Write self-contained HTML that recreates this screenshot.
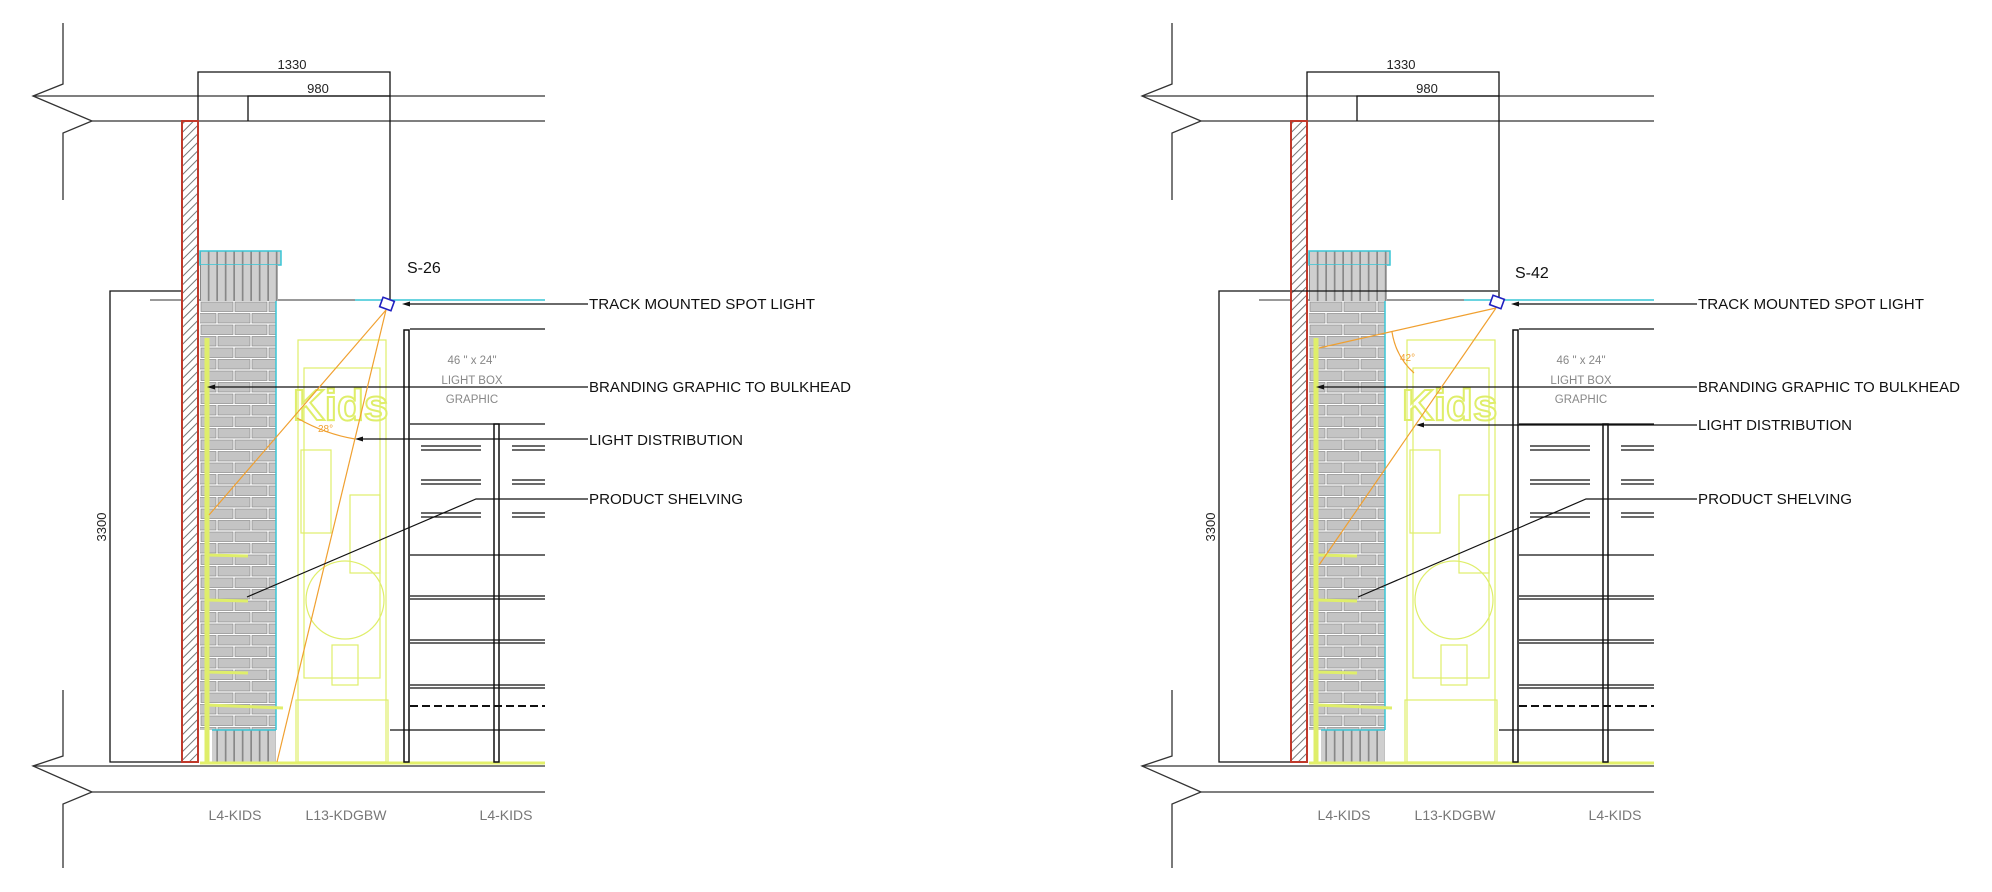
<!DOCTYPE html>
<html><head><meta charset="utf-8"><style>
html,body{margin:0;padding:0;background:#fff;}
svg{display:block;}
text{font-family:"Liberation Sans",sans-serif;}
</style></head><body>
<svg width="1992" height="892" viewBox="0 0 1992 892" xmlns="http://www.w3.org/2000/svg">
<defs>
<pattern id="hatch" width="6" height="6" patternUnits="userSpaceOnUse" patternTransform="rotate(45)">
<rect width="6" height="6" fill="#fff"/><line x1="0" y1="0" x2="0" y2="6" stroke="#777" stroke-width="2"/>
</pattern>
<pattern id="brick" x="200" y="301" width="34" height="23" patternUnits="userSpaceOnUse">
<rect width="34" height="23" fill="#fff"/>
<rect x="1" y="1" width="32" height="9.5" fill="#c4c4c4" stroke="#8a8a8a" stroke-width="0.7"/>
<rect x="-16" y="12.5" width="32" height="9.5" fill="#c4c4c4" stroke="#8a8a8a" stroke-width="0.7"/>
<rect x="18" y="12.5" width="32" height="9.5" fill="#c4c4c4" stroke="#8a8a8a" stroke-width="0.7"/>
</pattern>
<pattern id="vb" x="200" y="0" width="8.5" height="10" patternUnits="userSpaceOnUse">
<rect width="8.5" height="10" fill="#888"/><rect x="1" y="0" width="6.8" height="10" fill="#cfcfcf"/>
</pattern>
</defs>

<g id="half">
<g stroke="#333" stroke-width="1.3" fill="none">
<polyline points="63,23 63,84 33,96 92,121 63,133 63,200"/>
<polyline points="63,690 63,756 33,766 92,792 63,804 63,868"/>
<line x1="33" y1="96" x2="545" y2="96"/>
<line x1="92" y1="121" x2="545" y2="121"/>
<line x1="33" y1="766" x2="545" y2="766"/>
<line x1="92" y1="792" x2="545" y2="792"/>
</g>
<g stroke="#111" stroke-width="1.3" fill="none">
<polyline points="198,121 198,72 390,72 390,302"/>
<polyline points="248,121 248,96 390,96"/>
<polyline points="183,291 110,291 110,762 183,762"/>
<line x1="150" y1="300" x2="355" y2="300" stroke="#333" stroke-width="1"/>
</g>
<text x="292" y="69" font-size="13" text-anchor="middle" fill="#222">1330</text>
<text x="318" y="93" font-size="13" text-anchor="middle" fill="#222">980</text>
<text transform="translate(106,527) rotate(-90)" font-size="13" text-anchor="middle" fill="#222">3300</text>
<rect x="182" y="121" width="16" height="641" fill="url(#hatch)" stroke="#c0392b" stroke-width="2"/>
<rect x="200" y="251" width="81" height="14" fill="url(#vb)" stroke="#39c6d6" stroke-width="1.5"/>
<rect x="200" y="265" width="78" height="36" fill="url(#vb)"/>
<rect x="200" y="301" width="76" height="429" fill="url(#brick)"/>
<line x1="276" y1="301" x2="276" y2="730" stroke="#39c6d6" stroke-width="1.5"/>
<rect x="212" y="730" width="64" height="32" fill="url(#vb)"/>
<line x1="212" y1="730" x2="276" y2="730" stroke="#39c6d6" stroke-width="1.5"/>
<line x1="355" y1="300" x2="545" y2="300" stroke="#39c6d6" stroke-width="1.5"/>
<g stroke="#dfee6a" stroke-width="1.2" fill="none">
<line x1="207" y1="338" x2="207" y2="762" stroke-width="5"/>
<line x1="207" y1="555" x2="248" y2="556" stroke-width="3"/>
<line x1="207" y1="600" x2="248" y2="601" stroke-width="3"/>
<line x1="207" y1="672" x2="248" y2="673" stroke-width="3"/>
<line x1="207" y1="705" x2="283" y2="708" stroke-width="3"/>
<rect x="298" y="340" width="88" height="422"/>
<rect x="304" y="368" width="76" height="310"/>
<rect x="301" y="450" width="30" height="83"/>
<rect x="350" y="495" width="30" height="78"/>
<circle cx="345" cy="600" r="39"/>
<rect x="332" y="645" width="26" height="40"/>
<rect x="296" y="700" width="92" height="62"/>
</g>
<text x="293" y="420" font-size="44" font-weight="bold" fill="none" stroke="#dfee6a" stroke-width="2">Kids</text>
<line x1="200" y1="763" x2="545" y2="763" stroke="#e3f06a" stroke-width="3"/>
<g stroke="#111" stroke-width="1.3" fill="none">
<rect x="404" y="330" width="5" height="432" fill="#fff" stroke-width="1.5"/>
<line x1="410" y1="329" x2="545" y2="329"/>
<line x1="410" y1="424" x2="545" y2="424"/>
<rect x="494" y="424" width="5" height="338" stroke-width="1.5"/>
<line x1="421" y1="446" x2="481" y2="446"/><line x1="421" y1="450" x2="481" y2="450"/><line x1="512" y1="446" x2="545" y2="446"/><line x1="512" y1="450" x2="545" y2="450"/>
<line x1="421" y1="480" x2="481" y2="480"/><line x1="421" y1="484" x2="481" y2="484"/><line x1="512" y1="480" x2="545" y2="480"/><line x1="512" y1="484" x2="545" y2="484"/>
<line x1="421" y1="513" x2="481" y2="513"/><line x1="421" y1="517" x2="481" y2="517"/><line x1="512" y1="513" x2="545" y2="513"/><line x1="512" y1="517" x2="545" y2="517"/>
<line x1="410" y1="555" x2="545" y2="555"/>
<line x1="410" y1="596" x2="545" y2="596"/><line x1="410" y1="599" x2="545" y2="599"/>
<line x1="410" y1="640" x2="545" y2="640"/><line x1="410" y1="643" x2="545" y2="643"/>
<line x1="410" y1="685" x2="545" y2="685"/><line x1="410" y1="688" x2="545" y2="688"/>
<line x1="410" y1="706" x2="545" y2="706" stroke-dasharray="8 4" stroke-width="2"/>
<line x1="390" y1="730" x2="545" y2="730"/>
</g>
<g font-size="14" fill="#777" text-anchor="middle">
<text x="235" y="820">L4-KIDS</text>
<text x="346" y="820">L13-KDGBW</text>
<text x="506" y="820">L4-KIDS</text>
</g>
<g font-size="11.5" fill="#888" text-anchor="middle">
<text x="472" y="364">46 " x 24"</text>
<text x="472" y="384">LIGHT BOX</text>
<text x="472" y="403">GRAPHIC</text>
</g>
<g font-size="15" fill="#111">
<text x="589" y="309" textLength="226" lengthAdjust="spacingAndGlyphs">TRACK MOUNTED SPOT LIGHT</text>
<text x="589" y="392" textLength="262" lengthAdjust="spacingAndGlyphs">BRANDING GRAPHIC TO BULKHEAD</text>
</g>
<g stroke="#111" stroke-width="1.2" fill="none">
<line x1="405" y1="304" x2="588" y2="304"/>
<line x1="210" y1="387" x2="588" y2="387"/>
</g>
<polygon points="402,304 410,301.5 410,306.5" fill="#111"/>
<polygon points="207,387 215,384.5 215,389.5" fill="#111"/>
</g>

<g>
<g stroke="#f0a030" stroke-width="1.2" fill="none">
<line x1="386" y1="310" x2="209" y2="515"/>
<line x1="386" y1="310" x2="277" y2="762"/>
<path d="M297,418 Q325,434 355,439"/>
</g>
<text x="318" y="432" font-size="10" fill="#f0a030">28°</text>
<rect x="381" y="299" width="12" height="10" fill="#fff" stroke="#2020c0" stroke-width="1.6" transform="rotate(20 387 304)"/>
<text x="407" y="273" font-size="16" fill="#111">S-26</text>
<text x="589" y="445" font-size="15" fill="#111" textLength="154" lengthAdjust="spacingAndGlyphs">LIGHT DISTRIBUTION</text>
<text x="589" y="504" font-size="15" fill="#111" textLength="154" lengthAdjust="spacingAndGlyphs">PRODUCT SHELVING</text>
<g stroke="#111" stroke-width="1.2" fill="none">
<line x1="358" y1="439" x2="588" y2="439"/>
<polyline points="247,597 476,499 588,499"/>
</g>
<polygon points="355,439 363,436.5 363,441.5" fill="#111"/>
</g>

<use href="#half" transform="translate(1109,0)"/>

<g>
<line x1="1292" y1="291" x2="1498" y2="291" stroke="#111" stroke-width="1.3"/>
<g stroke="#f0a030" stroke-width="1.2" fill="none">
<line x1="1496" y1="308" x2="1319" y2="565"/>
<line x1="1496" y1="308" x2="1319" y2="348"/>
<path d="M1392,332 Q1396,357 1414,373"/>
</g>
<text x="1400" y="361" font-size="10" fill="#f0a030">42°</text>
<rect x="1491" y="297" width="12" height="10" fill="#fff" stroke="#2020c0" stroke-width="1.6" transform="rotate(20 1497 302)"/>
<text x="1515" y="278" font-size="16" fill="#111">S-42</text>
<text x="1698" y="430" font-size="15" fill="#111" textLength="154" lengthAdjust="spacingAndGlyphs">LIGHT DISTRIBUTION</text>
<text x="1698" y="504" font-size="15" fill="#111" textLength="154" lengthAdjust="spacingAndGlyphs">PRODUCT SHELVING</text>
<g stroke="#111" stroke-width="1.2" fill="none">
<line x1="1419" y1="425" x2="1697" y2="425"/>
<polyline points="1358,597 1586,499 1697,499"/>
</g>
<polygon points="1416,425 1424,422.5 1424,427.5" fill="#111"/>
</g>
</svg>
</body></html>
